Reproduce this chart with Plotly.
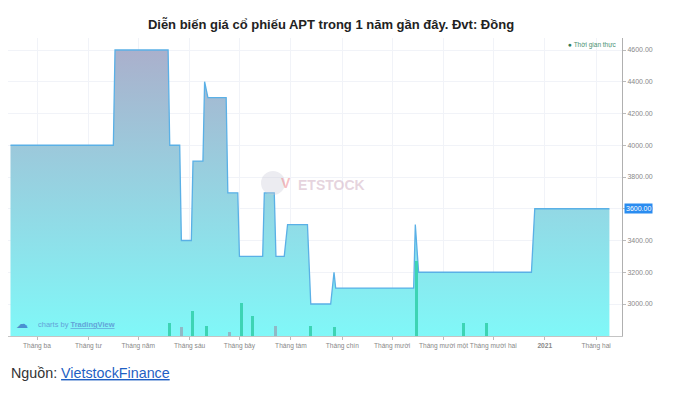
import plotly.graph_objects as go

# ---- Data ----
price_dates = ["2020-02-14", "2020-04-16", "2020-04-17", "2020-05-19", "2020-05-20",
               "2020-05-26", "2020-05-27", "2020-06-02", "2020-06-03", "2020-06-09",
               "2020-06-10", "2020-06-12", "2020-06-23", "2020-06-24", "2020-06-30",
               "2020-07-01", "2020-07-15", "2020-07-16", "2020-07-22", "2020-07-23",
               "2020-07-28", "2020-07-30", "2020-08-11", "2020-08-13", "2020-08-25",
               "2020-08-27", "2020-08-28", "2020-10-14", "2020-10-15", "2020-10-17",
               "2020-12-24", "2020-12-26", "2021-02-09"]
price_values = [4000, 4000, 4600, 4600, 4000,
                4000, 3400, 3400, 3900, 3900,
                4400, 4300, 4300, 3700, 3700,
                3300, 3300, 3700, 3700, 3300,
                3300, 3500, 3500, 3000, 3000,
                3200, 3100, 3100, 3500, 3200,
                3200, 3600, 3600]

vol_dates = ["2020-05-20", "2020-05-27", "2020-06-03", "2020-06-11", "2020-06-25",
             "2020-07-02", "2020-07-09", "2020-07-23", "2020-08-13", "2020-08-27",
             "2020-10-16", "2020-11-13", "2020-11-27"]
vol_values = [12.7, 9.3, 25, 10, 4.3, 33.3, 20, 10, 10.3, 9.3, 75, 12.7, 13.3]
vol_up = [True, False, True, True, False, True, True, False, True, True, True, True, True]

month_ticks = ["2020-03-01", "2020-04-01", "2020-05-01", "2020-06-01", "2020-07-01",
               "2020-08-01", "2020-09-01", "2020-10-01", "2020-11-01", "2020-12-01",
               "2021-01-01", "2021-02-01"]
month_labels = ["Tháng ba", "Tháng tư", "Tháng năm", "Tháng sáu", "Tháng bảy",
                "Tháng tám", "Tháng chín", "Tháng mười", "Tháng mười một",
                "Tháng mười hai", "<b>2021</b>", "Tháng hai"]
price_ticks = [3000, 3200, 3400, 3600, 3800, 4000, 4200, 4400, 4600]
price_tick_labels = [f"{v:.2f}" for v in price_ticks]
last_price = 3600

FONT = "Liberation Sans, Arial, sans-serif"

# The page body has an 8px margin, so the figure is 8px smaller and
# all figure coordinates are 8px less than page coordinates.
W, H = 671, 388

fig = go.Figure()
fig.add_trace(go.Scatter(
    x=price_dates, y=price_values, mode="lines",
    line=dict(color="#5ab0e6", width=1.3),
    fill="tozeroy",
    fillgradient=dict(type="vertical",
                      colorscale=[[0, "#80f8f8"], [1, "#aab0cc"]],
                      start=2798, stop=4600),
    hoverinfo="x+y", showlegend=False))

fig.add_trace(go.Bar(
    x=vol_dates, y=vol_values, yaxis="y2",
    marker=dict(color=["#3dd4b4" if u else "#8fb9c6" for u in vol_up], line_width=0),
    width=1.8 * 86400000, showlegend=False))

fig.update_layout(
    width=W, height=H,
    margin=dict(l=0, r=57, t=30, b=60),
    paper_bgcolor="white", plot_bgcolor="white",
    font=dict(family=FONT),
    title=dict(text="<b>Diễn biến giá cổ phiếu APT trong 1 năm gần đây. Đvt: Đồng</b>",
               x=323 / W, xanchor="center", y=1 - 16 / H, yanchor="middle",
               font=dict(size=13, color="#222", family=FONT)),
    xaxis=dict(type="date", range=["2020-02-12 12:00", "2021-02-16 14:00"],
               tickvals=month_ticks, ticktext=month_labels, tickangle=0,
               tickfont=dict(size=6.6, color="#888"),
               ticks="outside", ticklen=3, tickcolor="#bbb",
               showgrid=True, gridcolor="#f1f3f8", gridwidth=1,
               showline=True, linecolor="#c4c4c4", linewidth=1,
               zeroline=False, automargin=False),
    yaxis=dict(side="right", range=[2798.4, 4675.6],
               tickvals=price_ticks, ticktext=price_tick_labels,
               tickfont=dict(size=7, color="#888"),
               ticks="outside", ticklen=3, tickcolor="#bbb",
               showgrid=True, gridcolor="#f1f3f8", gridwidth=1,
               showline=True, linecolor="#b0b0b0", linewidth=1,
               zeroline=False, automargin=False),
    yaxis2=dict(overlaying="y", range=[0, 298], visible=False),
    bargap=0,
)

ann = [
    # last price label
    dict(xref="paper", yref="y", x=1, y=last_price, xanchor="left", yanchor="middle",
         xshift=2, text=f"{last_price:.2f}", showarrow=False,
         bgcolor="#2a8cf0", borderpad=1, font=dict(size=7, color="white")),
    # legend
    dict(xref="paper", yref="paper", x=(619 - 8) / 614, y=(336 - 45) / 298,
         xanchor="right", yanchor="middle", showarrow=False,
         text="<span style='color:#2f7d57'>●</span> Thời gian thực",
         font=dict(size=6.5, color="#4a9070")),
    # TradingView watermark
    dict(xref="paper", yref="paper", x=(14 - 8) / 614, y=(336 - 324) / 298,
         xanchor="left", yanchor="middle", showarrow=False,
         text="☁", font=dict(size=12, color="#4a8fd0")),
    dict(xref="paper", yref="paper", x=(36 - 8) / 614, y=(336 - 324) / 298,
         xanchor="left", yanchor="middle", showarrow=False,
         text="charts by <u><b>TradingView</b></u>", font=dict(size=7.5, color="#62a3d8")),
    # Vietstock watermark
    dict(xref="paper", yref="paper", x=(286 - 8) / 614, y=(336 - 183) / 298,
         xanchor="center", yanchor="middle", showarrow=False,
         text="<b>V</b>", font=dict(size=14, color="rgba(235,110,120,0.45)")),
    dict(xref="paper", yref="paper", x=(331 - 8) / 614, y=(336 - 185) / 298,
         xanchor="center", yanchor="middle", showarrow=False,
         text="<b>ETSTOCK</b>", font=dict(size=14, color="rgba(205,170,190,0.5)")),
    # source
    dict(xref="paper", yref="paper", x=(9 - 8) / 614, y=(336 - 373) / 298,
         xanchor="left", yanchor="middle", showarrow=False,
         text="Nguồn: <span style='color:#1f5fc4'><u>VietstockFinance</u></span>",
         font=dict(size=14.3, color="#333")),
]
fig.update_layout(annotations=ann)

fig.add_shape(type="circle", xref="paper", yref="paper",
              x0=(261 - 8) / 614, x1=(285 - 8) / 614,
              y0=(336 - 195) / 298, y1=(336 - 171) / 298,
              fillcolor="rgba(200,200,215,0.35)", line_width=0, layer="above")

fig.write_html("out.html")
